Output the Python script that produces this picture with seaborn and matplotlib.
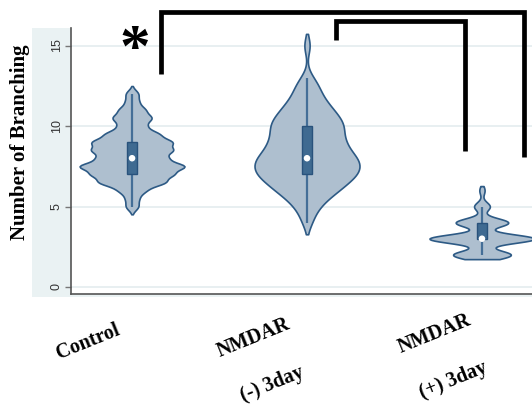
import numpy as np
import pandas as pd
import matplotlib
matplotlib.use("Agg")
import matplotlib.pyplot as plt
import matplotlib.transforms as mtransforms
import seaborn as sns
from matplotlib.patches import Rectangle
from matplotlib import cbook

# Branch counts per group: observed values and how often each occurs
groups = ["Control", "NMDAR\n(-) 3day", "NMDAR\n(+) 3day"]

control_values = [5.0, 5.5, 6.0, 6.5, 7.0, 7.5, 8.0, 8.5, 9.0, 9.5, 10.0, 10.5, 11.0, 11.5, 12.0]
control_counts = [1, 1, 2, 5, 6, 8, 5, 6, 6, 4, 2, 3, 2, 1, 1]

minus_values = [4.0, 4.5, 5.0, 5.5, 6.0, 6.5, 7.0, 7.5, 8.0, 8.5, 9.0, 9.5, 10.0,
                10.5, 11.0, 11.5, 12.0, 12.5, 13.0, 15.0]
minus_counts = [1, 1, 2, 3, 5, 6, 8, 8, 8, 6, 6, 5, 6, 5, 4, 3, 2, 2, 1, 1]

plus_values = [2, 3, 4, 5, 6]
plus_counts = [11, 20, 10, 3, 1]

yticks = [0, 5, 10, 15]

# Kernel smoothing per group
bw_adjusts = [0.34, 0.58, 0.6]
cuts = [2, 1.4, 1]

frames = []
for g, vals, cnts in [(groups[0], control_values, control_counts),
                      (groups[1], minus_values, minus_counts),
                      (groups[2], plus_values, plus_counts)]:
    frames.append(pd.DataFrame({"group": g, "value": np.repeat(vals, cnts).astype(float)}))
df = pd.concat(frames, ignore_index=True)

FILL = "#aebfcf"
EDGE = "#2d5a85"
BOX = "#3f6a91"
BOX_EDGE = "#29527c"
WHISKER = "#446e97"
STRIP = "#eaf2f3"
SERIF = "Liberation Serif"

W, H = 532, 409
fig = plt.figure(figsize=(W / 100, H / 100), dpi=100)
ax = fig.add_axes([71 / W, (H - 294) / H, (W - 71) / W, (294 - 28) / H])

# light panel behind the y axis and under the x axis
fig.patches.append(Rectangle((32 / W, (H - 297) / H), (71 - 32) / W, (297 - 28) / H,
                             transform=fig.transFigure, facecolor=STRIP,
                             edgecolor="none", zorder=-5))
fig.patches.append(Rectangle((71 / W, (H - 297) / H), (W - 71) / W, 3 / H,
                             transform=fig.transFigure, facecolor=STRIP,
                             edgecolor="none", zorder=-5))

for g, bw, cut in zip(groups, bw_adjusts, cuts):
    sns.violinplot(data=df[df["group"] == g], x="group", y="value", order=groups,
                   ax=ax, inner=None, density_norm="width", width=0.6,
                   bw_adjust=bw, cut=cut, color=FILL, linecolor=EDGE,
                   linewidth=1.2, saturation=1)

# box, whiskers and median drawn from each group's summary statistics
for i, g in enumerate(groups):
    st = cbook.boxplot_stats(df.loc[df["group"] == g, "value"].to_numpy())[0]
    ax.plot([i, i], [st["whislo"], st["whishi"]], color=WHISKER, lw=1.6,
            solid_capstyle="butt", zorder=3)
    ax.add_patch(Rectangle((i - 0.027, st["q1"]), 0.054, st["q3"] - st["q1"],
                           facecolor=BOX, edgecolor=BOX_EDGE, lw=1.0, zorder=4))
    ax.scatter([i], [st["med"]], s=22, color="white", edgecolor="none", zorder=5)

ax.set_xlim(-0.349, 2.286)
ax.set_ylim(-0.435, 16.09)
ax.set_yticks(yticks)
ax.set_yticklabels([str(t) for t in yticks])
ax.yaxis.grid(True, color="#e4ecef", lw=1.2)
ax.xaxis.grid(False)
ax.set_axisbelow(True)
ax.set_facecolor("white")

for side in ["top", "right"]:
    ax.spines[side].set_visible(False)
for side in ["left", "bottom"]:
    ax.spines[side].set_color("#555555")
    ax.spines[side].set_linewidth(1.2)

ax.tick_params(axis="y", length=4, width=1, color="#777777", labelsize=9,
               labelcolor="#333333", labelrotation=90, pad=2)
ax.tick_params(axis="x", length=0, labelbottom=False)
for lab in ax.get_yticklabels():
    lab.set_fontfamily("Liberation Sans")
    lab.set_va("center")

# slanted group names under each violin (offsets in pixels from the category)
label_offsets = [(-44, -48), (-44, -67), (-38, -63)]
base = ax.get_xaxis_transform()
for i, (g, (dx, dy)) in enumerate(zip(groups, label_offsets)):
    tr = base + mtransforms.ScaledTranslation(dx / 100, dy / 100, fig.dpi_scale_trans)
    ax.text(i, 0, g, transform=tr, fontfamily=SERIF, fontweight="bold",
            fontsize=14.5, rotation=22, rotation_mode="anchor", ha="center",
            va="center", multialignment="center", linespacing=3.0, clip_on=False)

ax.set_xlabel("")
ax.set_ylabel("Number of Branching", fontfamily=SERIF, fontweight="bold", fontsize=15)
ax.yaxis.label.set_va("center")
ax.yaxis.set_label_coords((20 - 71) / (W - 71), (294 - 142) / (294 - 28))

# significance brackets
brackets = [
    [(0.166, 13.23), (0.166, 17.1), (2.243, 17.1), (2.243, 8.07)],
    [(1.163, 15.34), (1.163, 16.55), (1.903, 16.55), (1.903, 8.47)],
]
for br in brackets:
    xs, ys = zip(*br)
    ax.plot(xs, ys, color="black", lw=3.4, clip_on=False, zorder=6,
            solid_joinstyle="miter", solid_capstyle="butt")
ax.text(0.017, 15.05, "*", fontfamily=SERIF, fontweight="bold", fontsize=44,
        ha="center", va="center_baseline", clip_on=False, zorder=6)

fig.savefig("out.png", dpi=100)
